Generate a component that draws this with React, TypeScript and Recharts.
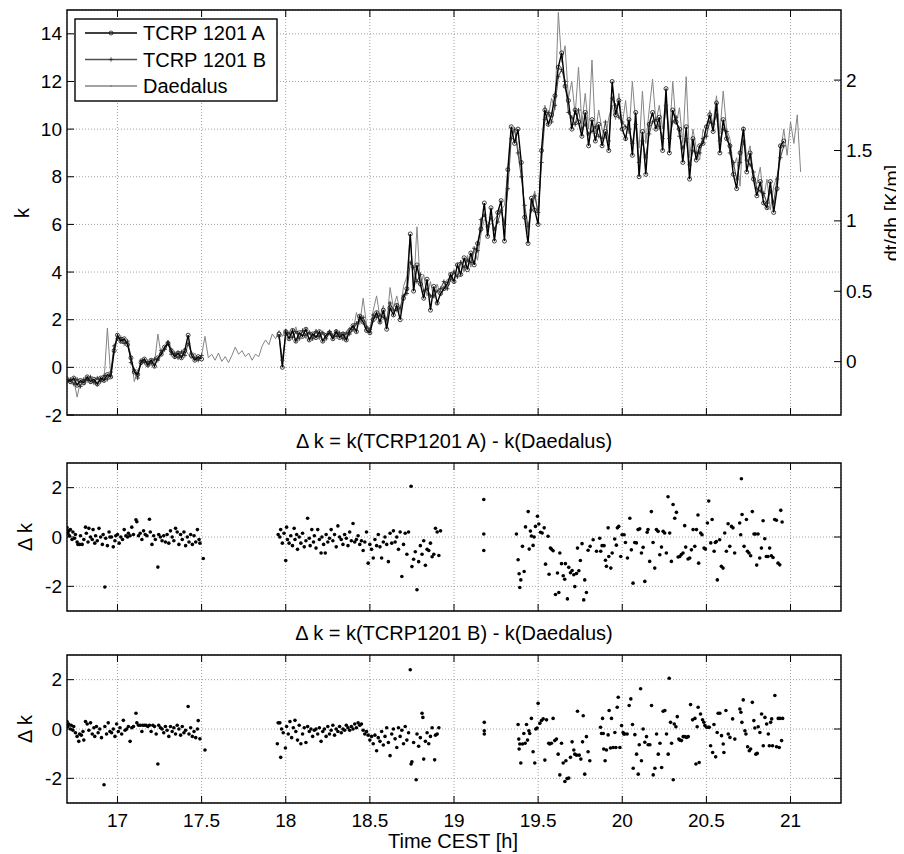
import React from "react";
import { CartesianGrid, ComposedChart, Line, ReferenceArea, Scatter, XAxis, YAxis } from "recharts";

// time axis, CEST [h]
const X_DOMAIN: [number, number] = [16.7, 21.3];
const X_TICKS = [17, 17.5, 18, 18.5, 19, 19.5, 20, 20.5, 21];
const K_DOMAIN: [number, number] = [-2, 15];
const K_TICKS = [-2, 0, 2, 4, 6, 8, 10, 12, 14];
const DTDH_DOMAIN: [number, number] = [-0.379, 2.498];
const DTDH_TICKS = [0, 0.5, 1, 1.5, 2];
const DK_DOMAIN: [number, number] = [-3, 3];
const DK_TICKS = [-2, 0, 2];

// k(t) for TCRP 1201 A  [t, k]
const tcrpA: [number, number | null][] = [
  [16.7, -0.5], [16.72, -0.6], [16.74, -0.45], [16.76, -0.75], [16.78, -0.55], [16.8, -0.65], [16.82, -0.4], [16.84, -0.6],
  [16.86, -0.5], [16.88, -0.7], [16.9, -0.45], [16.92, -0.55], [16.94, -0.3], [16.96, -0.4], [16.98, 0.7], [17.0, 1.35],
  [17.02, 1.1], [17.04, 1.2], [17.06, 0.95], [17.08, 0.4], [17.1, -0.2], [17.12, -0.3], [17.14, 0.2], [17.16, 0.35],
  [17.18, 0.1], [17.2, 0.3], [17.22, 0.05], [17.24, 0.4], [17.26, 0.55], [17.28, 0.85], [17.3, 1.0], [17.32, 0.7],
  [17.34, 0.45], [17.36, 0.6], [17.38, 0.4], [17.4, 0.7], [17.42, 1.35], [17.44, 0.5], [17.46, 0.3], [17.48, 0.45],
  [17.5, 0.35], [17.73, null],
  [17.96, 1.4], [17.98, 0.0], [18.0, 1.5], [18.02, 1.2], [18.04, 1.55], [18.06, 1.1], [18.08, 1.45], [18.1, 1.3],
  [18.12, 1.6], [18.14, 1.15], [18.16, 1.4], [18.18, 1.25], [18.2, 1.5], [18.22, 1.1], [18.24, 1.35], [18.26, 1.45],
  [18.28, 1.2], [18.3, 1.5], [18.32, 1.25], [18.34, 1.4], [18.36, 1.15], [18.38, 1.55], [18.4, 1.75], [18.42, 1.5],
  [18.44, 2.15], [18.46, 1.9], [18.48, 1.55], [18.5, 1.45], [18.52, 2.0], [18.54, 2.3], [18.56, 1.9], [18.58, 2.4],
  [18.6, 1.6], [18.62, 2.5], [18.64, 2.2], [18.66, 2.6], [18.68, 2.0], [18.7, 2.9], [18.72, 3.3], [18.74, 5.6],
  [18.76, 3.2], [18.78, 4.3], [18.8, 3.5], [18.82, 2.9], [18.84, 3.7], [18.86, 2.4], [18.88, 3.4], [18.9, 2.7],
  [18.92, 3.1], [18.94, 3.3], [18.96, 3.5], [18.98, 3.9], [19.0, 3.6], [19.02, 4.3], [19.04, 3.9], [19.06, 4.6],
  [19.08, 4.1], [19.1, 4.8], [19.12, 4.3], [19.14, 5.2], [19.16, 5.8], [19.18, 6.9], [19.2, 5.5], [19.22, 6.7],
  [19.24, 5.3], [19.26, 6.5], [19.28, 7.0], [19.3, 5.3], [19.32, 8.3], [19.34, 10.1], [19.36, 9.4], [19.38, 10.0],
  [19.4, 8.6], [19.42, 6.3], [19.44, 5.2], [19.46, 7.1], [19.48, 6.6], [19.5, 6.0], [19.52, 9.1], [19.54, 10.8],
  [19.56, 10.2], [19.58, 10.6], [19.6, 11.4], [19.62, 12.6], [19.64, 13.2], [19.66, 11.8], [19.68, 11.2], [19.7, 10.0],
  [19.72, 10.8], [19.74, 10.3], [19.76, 9.7], [19.78, 10.7], [19.8, 9.3], [19.82, 10.4], [19.84, 9.5], [19.86, 10.2],
  [19.88, 9.3], [19.9, 9.9], [19.92, 9.1], [19.94, 12.0], [19.96, 10.6], [19.98, 11.2], [20.0, 10.0], [20.02, 9.6],
  [20.04, 10.4], [20.06, 8.9], [20.08, 10.7], [20.1, 8.0], [20.12, 9.9], [20.14, 8.1], [20.16, 10.2], [20.18, 10.7],
  [20.2, 10.0], [20.22, 10.5], [20.24, 9.1], [20.26, 11.7], [20.28, 9.0], [20.3, 10.8], [20.32, 10.3], [20.34, 10.0],
  [20.36, 8.6], [20.38, 10.1], [20.4, 7.9], [20.42, 9.6], [20.44, 8.7], [20.46, 9.3], [20.48, 9.4], [20.5, 10.1],
  [20.52, 10.6], [20.54, 9.9], [20.56, 11.1], [20.58, 9.0], [20.6, 10.4], [20.62, 9.6], [20.64, 9.3], [20.66, 8.1],
  [20.68, 7.5], [20.7, 9.0], [20.72, 10.0], [20.74, 8.2], [20.76, 9.0], [20.78, 7.9], [20.8, 7.2], [20.82, 7.8],
  [20.84, 6.9], [20.86, 6.7], [20.88, 7.8], [20.9, 6.5], [20.92, 7.5], [20.94, 9.3], [20.96, 9.5],
];

// k(t) for TCRP 1201 B
const tcrpB: [number, number | null][] = [
  [16.7, -0.6], [16.72, -0.5], [16.74, -0.7], [16.76, -0.5], [16.78, -0.8], [16.8, -0.5], [16.82, -0.55], [16.84, -0.4],
  [16.86, -0.65], [16.88, -0.45], [16.9, -0.6], [16.92, -0.35], [16.94, -0.5], [16.96, -0.2], [16.98, 0.9], [17.0, 1.2],
  [17.02, 1.25], [17.04, 1.0], [17.06, 1.1], [17.08, 0.2], [17.1, -0.1], [17.12, -0.45], [17.14, 0.3], [17.16, 0.2],
  [17.18, 0.25], [17.2, 0.15], [17.22, 0.35], [17.24, 0.3], [17.26, 0.7], [17.28, 0.75], [17.3, 1.05], [17.32, 0.55],
  [17.34, 0.6], [17.36, 0.4], [17.38, 0.65], [17.4, 0.5], [17.42, 1.0], [17.44, 0.6], [17.46, 0.4], [17.48, 0.3],
  [17.5, 0.5], [17.73, null],
  [17.96, 1.3], [17.98, 0.3], [18.0, 1.35], [18.02, 1.45], [18.04, 1.25], [18.06, 1.5], [18.08, 1.2], [18.1, 1.55],
  [18.12, 1.35], [18.14, 1.45], [18.16, 1.2], [18.18, 1.5], [18.2, 1.3], [18.22, 1.45], [18.24, 1.2], [18.26, 1.5],
  [18.28, 1.35], [18.3, 1.3], [18.32, 1.45], [18.34, 1.2], [18.36, 1.45], [18.38, 1.4], [18.4, 1.6], [18.42, 1.85],
  [18.44, 2.0], [18.46, 2.1], [18.48, 1.7], [18.5, 1.6], [18.52, 2.2], [18.54, 2.1], [18.56, 2.2], [18.58, 2.1],
  [18.6, 2.0], [18.62, 2.7], [18.64, 2.4], [18.66, 2.4], [18.68, 2.5], [18.7, 3.0], [18.72, 3.1], [18.74, 4.4],
  [18.76, 4.2], [18.78, 3.6], [18.8, 3.9], [18.82, 3.2], [18.84, 3.3], [18.86, 3.0], [18.88, 3.0], [18.9, 3.2],
  [18.92, 3.3], [18.94, 3.6], [18.96, 3.3], [18.98, 3.7], [19.0, 4.0], [19.02, 3.8], [19.04, 4.4], [19.06, 4.2],
  [19.08, 4.5], [19.1, 4.4], [19.12, 5.0], [19.14, 4.9], [19.16, 6.2], [19.18, 6.4], [19.2, 5.9], [19.22, 6.3],
  [19.24, 5.8], [19.26, 6.1], [19.28, 6.6], [19.3, 6.0], [19.32, 7.5], [19.34, 9.6], [19.36, 10.0], [19.38, 9.0],
  [19.4, 8.0], [19.42, 6.8], [19.44, 5.9], [19.46, 6.6], [19.48, 7.2], [19.5, 6.5], [19.52, 8.6], [19.54, 10.4],
  [19.56, 10.7], [19.58, 10.3], [19.6, 11.0], [19.62, 12.2], [19.64, 12.5], [19.66, 12.0], [19.68, 10.7], [19.7, 10.5],
  [19.72, 10.2], [19.74, 10.8], [19.76, 10.0], [19.78, 10.2], [19.8, 9.8], [19.82, 9.9], [19.84, 10.1], [19.86, 9.7],
  [19.88, 9.6], [19.9, 10.3], [19.92, 9.5], [19.94, 11.3], [19.96, 11.0], [19.98, 10.5], [20.0, 10.3], [20.02, 10.1],
  [20.04, 10.0], [20.06, 9.4], [20.08, 10.2], [20.1, 8.6], [20.12, 9.5], [20.14, 8.8], [20.16, 9.8], [20.18, 10.3],
  [20.2, 10.4], [20.22, 10.1], [20.24, 9.6], [20.26, 11.0], [20.28, 9.6], [20.3, 10.3], [20.32, 10.5], [20.34, 9.7],
  [20.36, 9.2], [20.38, 9.6], [20.4, 8.5], [20.42, 9.1], [20.44, 9.0], [20.46, 9.0], [20.48, 9.6], [20.5, 9.7],
  [20.52, 10.3], [20.54, 10.2], [20.56, 10.6], [20.58, 9.5], [20.6, 10.0], [20.62, 9.9], [20.64, 9.0], [20.66, 8.6],
  [20.68, 7.9], [20.7, 8.6], [20.72, 9.5], [20.74, 8.7], [20.76, 8.5], [20.78, 8.2], [20.8, 7.5], [20.82, 7.4],
  [20.84, 7.3], [20.86, 6.9], [20.88, 7.4], [20.9, 6.9], [20.92, 7.9], [20.94, 8.8], [20.96, 9.3],
];

// k(t) for Daedalus
const daedalus: [number, number][] = [
  [16.7, -0.55], [16.72, -0.7], [16.74, -0.5], [16.76, -1.25], [16.78, -0.6], [16.8, -0.75], [16.82, -0.45], [16.84, -0.7],
  [16.86, -0.55], [16.88, -0.8], [16.9, -0.4], [16.92, -0.6], [16.94, 1.65], [16.96, -0.35], [16.98, 0.6], [17.0, 1.3],
  [17.02, 1.0], [17.04, 1.15], [17.06, 1.05], [17.08, 0.5], [17.1, -0.6], [17.12, -0.1], [17.14, 0.1], [17.16, 0.3],
  [17.18, 0.0], [17.2, 0.35], [17.22, 0.15], [17.24, 1.4], [17.26, 0.5], [17.28, 0.7], [17.3, 1.15], [17.32, 0.8],
  [17.34, 0.35], [17.36, 0.7], [17.38, 0.45], [17.4, 0.8], [17.42, 0.55], [17.44, 0.35], [17.46, 0.6], [17.48, 0.3],
  [17.5, 0.5], [17.52, 1.3], [17.54, 0.4], [17.56, 0.55], [17.58, 0.3], [17.6, 0.6], [17.62, 0.25], [17.64, 0.45],
  [17.66, 0.2], [17.68, 0.5], [17.7, 0.85], [17.72, 0.55], [17.74, 0.7], [17.76, 0.45], [17.78, 0.6], [17.8, 0.3],
  [17.82, 0.55], [17.84, 0.45], [17.86, 0.9], [17.88, 1.15], [17.9, 0.95], [17.92, 1.4], [17.94, 1.2], [17.96, 1.55],
  [17.98, 1.3], [18.0, 1.6], [18.02, 1.35], [18.04, 1.4], [18.06, 1.7], [18.08, 1.25], [18.1, 1.5], [18.12, 1.2],
  [18.14, 1.55], [18.16, 1.3], [18.18, 1.6], [18.2, 1.15], [18.22, 1.5], [18.24, 1.3], [18.26, 1.55], [18.28, 1.2],
  [18.3, 1.6], [18.32, 1.35], [18.34, 1.5], [18.36, 1.25], [18.38, 1.7], [18.4, 1.5], [18.42, 2.3], [18.44, 1.8],
  [18.46, 2.9], [18.48, 1.8], [18.5, 1.5], [18.52, 2.4], [18.54, 3.0], [18.56, 2.1], [18.58, 2.6], [18.6, 1.8],
  [18.62, 3.35], [18.64, 2.5], [18.66, 3.0], [18.68, 2.3], [18.7, 3.4], [18.72, 3.8], [18.74, 5.6], [18.76, 3.3],
  [18.78, 5.9], [18.8, 3.4], [18.82, 3.9], [18.84, 3.0], [18.86, 3.6], [18.88, 2.9], [18.9, 3.5], [18.92, 3.0],
  [18.94, 3.4], [18.96, 3.7], [18.98, 3.6], [19.0, 4.1], [19.02, 3.8], [19.04, 4.5], [19.06, 4.0], [19.08, 4.7],
  [19.1, 4.2], [19.12, 4.9], [19.14, 4.5], [19.16, 5.6], [19.18, 6.2], [19.22, 6.0], [19.3, 6.8], [19.34, 9.8],
  [19.36, 10.0], [19.38, 9.2], [19.4, 8.3], [19.42, 6.6], [19.44, 5.6], [19.46, 6.9], [19.48, 7.4], [19.5, 6.4],
  [19.52, 8.9], [19.54, 11.0], [19.56, 10.5], [19.58, 11.3], [19.6, 10.8], [19.62, 14.9], [19.64, 12.8], [19.66, 13.5],
  [19.68, 11.3], [19.7, 12.0], [19.72, 10.6], [19.74, 12.6], [19.76, 10.2], [19.78, 11.5], [19.8, 10.0], [19.82, 12.9],
  [19.84, 9.8], [19.86, 10.8], [19.88, 10.0], [19.9, 9.6], [19.92, 10.5], [19.94, 11.0], [19.96, 10.4], [19.98, 11.5],
  [20.0, 10.2], [20.02, 11.2], [20.04, 9.8], [20.06, 12.0], [20.08, 10.3], [20.1, 9.2], [20.12, 11.6], [20.14, 9.4],
  [20.16, 10.8], [20.18, 12.1], [20.2, 10.3], [20.22, 11.0], [20.24, 10.0], [20.26, 11.4], [20.28, 9.6], [20.3, 12.0],
  [20.32, 10.2], [20.34, 10.9], [20.36, 9.4], [20.38, 12.2], [20.4, 8.8], [20.42, 10.0], [20.44, 9.2], [20.46, 8.7],
  [20.48, 10.0], [20.5, 9.6], [20.52, 10.8], [20.54, 10.2], [20.56, 11.4], [20.58, 9.8], [20.6, 11.6], [20.62, 10.0],
  [20.64, 9.6], [20.66, 8.4], [20.68, 8.8], [20.7, 7.6], [20.72, 10.1], [20.74, 8.8], [20.76, 9.3], [20.78, 8.0],
  [20.8, 7.7], [20.82, 8.4], [20.84, 7.1], [20.86, 7.9], [20.88, 6.6], [20.9, 7.6], [20.92, 8.0], [20.94, 9.0],
  [20.96, 10.0], [20.98, 8.9], [21.0, 10.3], [21.02, 9.4], [21.04, 10.6], [21.06, 8.2],
];

// delta k = k(TCRP1201 A) - k(Daedalus)  [t, dk]
const dkA: [number, number][] = [
  [16.7, 0.38], [16.705, 0.15], [16.71, 0.25], [16.715, 0.05], [16.72, 0.3], [16.73, -0.1], [16.735, 0.2], [16.745, -0.05],
  [16.75, 0.1], [16.76, -0.2], [16.765, -0.3], [16.775, -0.3], [16.78, 0.05], [16.79, -0.3], [16.8, -0.1], [16.81, 0.4],
  [16.815, 0.15], [16.825, -0.2], [16.83, 0.35], [16.84, 0.0], [16.85, -0.1], [16.855, 0.3], [16.865, -0.25], [16.87, 0.05],
  [16.88, -0.15], [16.89, 0.35], [16.9, 0.0], [16.91, -0.3], [16.915, 0.1], [16.925, -2.03], [16.93, -0.05], [16.94, -0.35],
  [16.95, 0.2], [16.955, 0.0], [16.965, 0.0], [16.975, -0.4], [16.985, -0.15], [16.99, 0.05], [17.0, 0.1], [17.01, -0.25],
  [17.02, 0.0], [17.03, -0.1], [17.04, 0.3], [17.05, 0.05], [17.06, 0.0], [17.065, 0.15], [17.075, 0.05], [17.085, 0.4],
  [17.095, 0.1], [17.11, 0.7], [17.115, 0.62], [17.125, 0.05], [17.135, 0.15], [17.145, -0.1], [17.155, 0.25], [17.165, 0.1],
  [17.175, 0.05], [17.19, 0.72], [17.195, 0.2], [17.205, -0.3], [17.215, 0.05], [17.225, -0.1], [17.24, -1.22], [17.245, 0.1],
  [17.255, 0.0], [17.265, -0.15], [17.275, 0.05], [17.285, -0.2], [17.295, 0.1], [17.305, -0.25], [17.315, 0.25], [17.325, 0.0],
  [17.335, -0.15], [17.345, 0.35], [17.355, 0.2], [17.365, -0.3], [17.375, 0.1], [17.385, -0.1], [17.395, 0.2], [17.405, -0.35],
  [17.415, 0.0], [17.425, -0.2], [17.435, 0.1], [17.445, -0.3], [17.455, 0.05], [17.465, -0.2], [17.475, 0.3], [17.485, -0.1],
  [17.49, -0.25], [17.51, -0.87],
  [17.955, 0.1], [17.965, 0.0], [17.97, 0.3], [17.98, -0.25], [17.99, 0.15], [18.0, -0.95], [18.005, 0.4], [18.01, -0.1],
  [18.02, -0.25], [18.03, 0.05], [18.04, -0.35], [18.05, 0.35], [18.055, -0.1], [18.065, 0.1], [18.07, -0.5], [18.08, 0.0],
  [18.09, -0.25], [18.1, 0.15], [18.11, -0.4], [18.12, -0.15], [18.13, 0.76], [18.14, -0.05], [18.145, -0.35], [18.155, 0.3],
  [18.165, -0.2], [18.17, 0.05], [18.18, -0.45], [18.19, 0.3], [18.2, -0.1], [18.21, -0.65], [18.215, 0.0], [18.225, -0.3],
  [18.235, -0.65], [18.24, 0.1], [18.25, -0.2], [18.26, -0.05], [18.27, 0.3], [18.28, -0.15], [18.29, 0.1], [18.3, -0.4],
  [18.31, 0.45], [18.32, 0.0], [18.33, -0.1], [18.34, -0.3], [18.35, 0.1], [18.36, -0.05], [18.37, -0.35], [18.38, 0.2],
  [18.39, -0.15], [18.4, 0.55], [18.41, -0.2], [18.42, -0.1], [18.43, 0.05], [18.44, -0.3], [18.45, -0.15], [18.46, -0.55],
  [18.47, -0.2], [18.48, 0.2], [18.49, -1.06], [18.5, -0.3], [18.51, -0.5], [18.52, -0.85], [18.53, -0.1], [18.54, -0.35],
  [18.55, 0.1], [18.56, -0.4], [18.57, -0.85], [18.58, -0.2], [18.59, 0.0], [18.6, -0.3], [18.61, -1.0], [18.62, 0.15],
  [18.63, -0.25], [18.64, 0.25], [18.65, -0.2], [18.66, 0.0], [18.67, -0.5], [18.68, 0.2], [18.69, -1.6], [18.7, -0.3],
  [18.71, 0.15], [18.72, -0.7], [18.73, 0.2], [18.745, 2.06], [18.75, -1.2], [18.76, -0.9], [18.77, -0.6], [18.78, -2.14],
  [18.79, -1.0], [18.8, -0.35], [18.81, -0.7], [18.82, -0.15], [18.83, -1.15], [18.84, -0.5], [18.85, -0.55], [18.86, -0.25],
  [18.87, -0.8], [18.88, -0.7], [18.89, 0.35], [18.9, 0.2], [18.91, -0.75], [18.92, 0.25],
  [19.177, 1.52], [19.177, 0.12], [19.177, -0.55],
  [19.371, 0.12], [19.381, -0.92], [19.387, -1.49], [19.391, -2.05], [19.397, -1.74], [19.407, -0.38], [19.417, -1.4], [19.425, 0.41],
  [19.441, 1.03], [19.447, -0.49], [19.454, 0.24], [19.46, 0.04], [19.47, -0.34], [19.476, 0.0], [19.484, 0.43], [19.496, 0.84],
  [19.504, 0.53], [19.514, 0.19], [19.524, 0.16], [19.536, 0.37], [19.544, -1.1], [19.559, 0.03], [19.565, -1.51], [19.573, -0.45],
  [19.579, -0.49], [19.589, -0.56], [19.603, -2.33], [19.615, -1.46], [19.623, -2.25], [19.629, -0.65], [19.639, -1.08], [19.649, -1.57],
  [19.658, -1.71], [19.662, -1.08], [19.674, -2.51], [19.682, -1.23], [19.692, -1.45], [19.702, -1.36], [19.712, -1.53], [19.718, -2.01],
  [19.728, -1.48], [19.734, -0.45], [19.742, -1.37], [19.751, -0.95], [19.761, -0.27], [19.771, -2.55], [19.777, -1.74], [19.787, -2.25],
  [19.797, -0.54], [19.809, -0.38], [19.827, -0.11], [19.847, -0.58], [19.866, -0.05], [19.872, -0.58], [19.88, -0.35], [19.892, -0.35],
  [19.9, -0.94], [19.906, -1.19], [19.916, 0.37], [19.92, -0.79], [19.932, -1.26], [19.94, -0.65], [19.955, -0.08], [19.965, -0.33],
  [19.971, 0.37], [19.979, 0.43], [19.991, -0.79], [19.999, 0.09], [20.011, 0.09], [20.019, -0.22], [20.031, -0.85], [20.045, 0.76],
  [20.054, -0.52], [20.064, -1.87], [20.074, -0.22], [20.084, -0.24], [20.094, 0.3], [20.104, 0.33], [20.114, -0.65], [20.124, -0.42],
  [20.134, -1.8], [20.148, 0.19], [20.153, 0.3], [20.163, -0.99], [20.173, 1.03], [20.183, -0.22], [20.193, -1.26], [20.203, 0.3],
  [20.213, 0.23], [20.223, -0.72], [20.233, -0.41], [20.243, 0.23], [20.252, 0.16], [20.262, -0.65], [20.272, 1.63], [20.282, 0.16],
  [20.292, -0.99], [20.302, 1.32], [20.312, 0.76], [20.322, 1.0], [20.332, -0.81], [20.342, -0.79], [20.351, -0.71], [20.361, -0.65],
  [20.371, 0.46], [20.377, -0.41], [20.391, -0.89], [20.401, -0.85], [20.411, -0.52], [20.421, 0.3], [20.431, -0.38], [20.441, 0.3],
  [20.45, 0.89], [20.454, -1.06], [20.466, 0.16], [20.474, 0.09], [20.486, -0.45], [20.494, -0.49], [20.506, 0.57], [20.514, 1.46],
  [20.526, -0.24], [20.534, 0.71], [20.546, -0.58], [20.553, -0.22], [20.559, -0.18], [20.565, -1.74], [20.579, -0.11], [20.589, -1.19],
  [20.599, -1.26], [20.609, 0.16], [20.619, -0.58], [20.629, 0.54], [20.639, -0.38], [20.649, 0.43], [20.658, 0.37], [20.668, -0.65],
  [20.698, 0.57], [20.704, 0.09], [20.708, 2.36], [20.712, 0.91], [20.724, -0.38], [20.738, 0.71], [20.744, -0.58], [20.753, -0.65],
  [20.763, -0.76], [20.773, 1.03], [20.783, 0.12], [20.791, 0.12], [20.799, -1.14], [20.807, 0.12], [20.817, -0.85], [20.827, -0.45],
  [20.837, 0.66], [20.847, -0.07], [20.856, -0.79], [20.866, -0.79], [20.876, -0.45], [20.886, -0.76], [20.896, -0.83], [20.906, 0.71],
  [20.916, 0.68], [20.926, -1.06], [20.936, -1.13], [20.942, 1.08], [20.95, 0.61],
];

// delta k = k(TCRP1201 B) - k(Daedalus)
const dkB: [number, number][] = [
  [16.7, 0.3], [16.705, 0.1], [16.71, 0.2], [16.72, 0.0], [16.725, 0.15], [16.735, -0.05], [16.74, 0.1], [16.75, -0.15],
  [16.76, -0.3], [16.77, -0.5], [16.775, -0.2], [16.785, -0.25], [16.795, -0.1], [16.8, -0.45], [16.81, 0.3], [16.82, 0.2],
  [16.83, -0.05], [16.84, 0.25], [16.85, -0.2], [16.86, 0.05], [16.865, -0.3], [16.875, 0.1], [16.885, -0.15], [16.895, 0.0],
  [16.905, -0.35], [16.92, -2.26], [16.925, 0.1], [16.935, -0.2], [16.945, 0.25], [16.955, -0.1], [16.965, -0.15], [16.975, 0.0],
  [16.985, -0.3], [16.995, 0.2], [17.005, -0.1], [17.015, 0.05], [17.025, -0.2], [17.035, 0.35], [17.045, -0.05], [17.055, 0.0],
  [17.065, 0.1], [17.075, -0.5], [17.085, 0.05], [17.095, 0.1], [17.11, 0.64], [17.115, 0.25], [17.125, 0.15], [17.135, 0.15],
  [17.145, -0.1], [17.15, 0.15], [17.16, 0.15], [17.17, 0.15], [17.18, 0.1], [17.19, 0.15], [17.2, -0.1], [17.21, 0.15],
  [17.22, 0.1], [17.23, -0.2], [17.24, -1.42], [17.245, 0.15], [17.255, 0.05], [17.265, 0.0], [17.275, -0.15], [17.285, 0.1],
  [17.295, -0.05], [17.305, -0.3], [17.315, 0.1], [17.325, -0.1], [17.335, 0.05], [17.345, -0.2], [17.355, 0.15], [17.365, 0.0],
  [17.375, -0.25], [17.385, 0.1], [17.395, -0.15], [17.405, -0.05], [17.42, 0.91], [17.425, -0.2], [17.435, 0.05], [17.445, -0.3],
  [17.455, -0.1], [17.465, -0.35], [17.475, 0.0], [17.48, 0.34], [17.49, -0.4], [17.52, -0.85],
  [17.95, -0.6], [17.955, 0.25], [17.965, 0.25], [17.97, -1.15], [17.975, 0.0], [17.985, -0.15], [17.998, -0.77], [18.005, 0.1],
  [18.015, -0.2], [18.025, 0.3], [18.035, -0.35], [18.045, 0.05], [18.055, 0.35], [18.06, -0.1], [18.07, -0.45], [18.08, 0.15],
  [18.09, -0.6], [18.1, -0.2], [18.11, 0.05], [18.12, -0.55], [18.13, 0.1], [18.14, -0.1], [18.15, 0.0], [18.16, -0.3],
  [18.17, -0.05], [18.18, 0.0], [18.19, -0.2], [18.2, 0.05], [18.21, -0.5], [18.22, -0.1], [18.23, 0.0], [18.24, -0.3],
  [18.25, 0.1], [18.26, -0.2], [18.27, -0.05], [18.28, 0.15], [18.29, -0.25], [18.3, 0.0], [18.31, -0.1], [18.32, 0.1],
  [18.33, -0.15], [18.34, 0.0], [18.35, -0.05], [18.36, 0.15], [18.37, 0.05], [18.38, -0.05], [18.39, 0.1], [18.4, 0.0],
  [18.41, 0.2], [18.42, 0.05], [18.43, 0.25], [18.44, 0.15], [18.45, 0.2], [18.46, -0.05], [18.47, -0.2], [18.48, -0.1],
  [18.49, -0.25], [18.5, -0.45], [18.51, -0.3], [18.52, -0.6], [18.53, -0.25], [18.54, -0.88], [18.55, -0.35], [18.56, -0.5],
  [18.57, -0.1], [18.58, -0.65], [18.59, -0.3], [18.6, 0.05], [18.61, -0.55], [18.62, -1.08], [18.63, -0.2], [18.64, 0.0],
  [18.65, -0.4], [18.66, -0.75], [18.67, 0.05], [18.68, -0.3], [18.69, -0.05], [18.7, -0.6], [18.71, 0.1], [18.72, -0.45],
  [18.73, -0.15], [18.74, 2.4], [18.745, -1.42], [18.75, -1.33], [18.76, -0.55], [18.775, -2.06], [18.78, -0.2], [18.79, -0.7],
  [18.8, -0.35], [18.81, 0.64], [18.815, 0.47], [18.82, -1.22], [18.83, -0.5], [18.84, -0.15], [18.85, -0.6], [18.86, -0.3],
  [18.87, 0.05], [18.885, -1.25], [18.89, -0.25], [18.9, -0.2], [18.91, 0.05],
  [19.18, 0.27], [19.18, -0.07], [19.18, -0.2],
  [19.381, 0.18], [19.385, -0.41], [19.387, -0.81], [19.391, -0.61], [19.397, -1.38], [19.407, -0.61], [19.415, -0.18], [19.423, -0.58],
  [19.431, 0.18], [19.437, -0.45], [19.445, -0.07], [19.45, -0.18], [19.46, 0.43], [19.47, -0.92], [19.48, -1.38], [19.486, 0.0],
  [19.494, 0.04], [19.5, 1.04], [19.51, 0.23], [19.52, 0.34], [19.53, 0.41], [19.54, -1.26], [19.55, 0.37], [19.563, -0.58],
  [19.569, -0.61], [19.579, -0.58], [19.589, 0.43], [19.599, -0.47], [19.609, -0.41], [19.619, -1.02], [19.629, -1.86], [19.639, -0.58],
  [19.649, -1.38], [19.659, -2.13], [19.665, -1.29], [19.672, -2.01], [19.682, -1.99], [19.692, -1.15], [19.702, -0.52], [19.712, -0.85],
  [19.718, -1.02], [19.728, -1.06], [19.734, 0.72], [19.744, -1.06], [19.754, -1.22], [19.764, -0.52], [19.768, 0.54], [19.777, -1.83],
  [19.787, -0.31], [19.797, -0.92], [19.807, -1.29], [19.871, 0.07], [19.877, -0.18], [19.883, 0.43], [19.887, -0.18], [19.89, -0.81],
  [19.898, -1.29], [19.906, -0.85], [19.916, -0.24], [19.922, 0.75], [19.93, -0.77], [19.936, 0.43], [19.946, -0.75], [19.956, -0.14],
  [19.962, -0.75], [19.97, 0.88], [19.976, 1.29], [19.986, -0.75], [19.996, 0.14], [20.005, -0.14], [20.009, -0.2], [20.015, -0.2],
  [20.029, -0.2], [20.041, 0.95], [20.051, 1.22], [20.061, 0.18], [20.065, -1.59], [20.075, -0.23], [20.085, -1.02], [20.095, -1.83],
  [20.101, -0.64], [20.109, 1.63], [20.114, -1.29], [20.124, 0.0], [20.134, -0.54], [20.144, -0.31], [20.154, -0.64], [20.164, -0.64],
  [20.174, 0.95], [20.184, -1.86], [20.194, -1.59], [20.204, -0.2], [20.214, -1.02], [20.224, -0.58], [20.234, -1.56], [20.243, 0.72],
  [20.253, 0.75], [20.263, -0.2], [20.273, -1.02], [20.279, 2.06], [20.287, 0.27], [20.293, -0.58], [20.303, -2.06], [20.309, 0.2],
  [20.319, 0.09], [20.327, 0.5], [20.336, -0.41], [20.342, -0.45], [20.352, -0.47], [20.362, -0.31], [20.372, -0.31], [20.382, -0.34],
  [20.392, -0.31], [20.406, 0.99], [20.418, 0.37], [20.432, 0.43], [20.438, -1.42], [20.445, 0.09], [20.451, 0.88], [20.457, -1.36],
  [20.465, 0.61], [20.477, 0.37], [20.485, 0.27], [20.491, 0.14], [20.501, 0.07], [20.511, 0.07], [20.517, 0.07], [20.525, -0.68],
  [20.537, -0.95], [20.545, 0.18], [20.555, -1.13], [20.564, -0.14], [20.57, 0.64], [20.58, 0.64], [20.59, -0.27], [20.6, -0.61],
  [20.604, -0.95], [20.616, 0.75], [20.63, -0.2], [20.64, -0.34], [20.656, 0.41], [20.669, -0.41], [20.699, 0.81], [20.705, 0.68],
  [20.711, 0.27], [20.719, 1.18], [20.729, -0.07], [20.735, -0.2], [20.745, -0.72], [20.755, -0.88], [20.763, -0.81], [20.773, 1.08],
  [20.782, 0.34], [20.788, 0.04], [20.794, -1.02], [20.802, -0.99], [20.808, 0.09], [20.818, -0.14], [20.828, 0.61], [20.838, -0.68],
  [20.848, 0.47], [20.858, 0.2], [20.868, -0.2], [20.874, -0.68], [20.882, 0.27], [20.888, 0.41], [20.893, -0.68], [20.907, 1.36],
  [20.917, -0.72], [20.927, 0.43], [20.933, -0.75], [20.937, 0.43], [20.947, -0.47], [20.953, 0.43],
];

const rows = (pairs: [number, number | null][]) => pairs.map(([t, v]) => ({ t, v }));

const FONT = '"Liberation Sans", Arial, Helvetica, sans-serif';
const W = 888;
const PL = 59; // plot left inside each chart
const PR = 833; // plot right inside each chart
const TICK = 7;
const GRID = "#a0a0a0";

const COLOR_A = "#000000";
const COLOR_B = "#505050";
const COLOR_D = "#858585";

function xTick(top: number, bottom: number, labels: boolean) {
  return (p: any) => (
    <g key={`xt-${p.index}`}>
      <line x1={p.x} x2={p.x} y1={bottom} y2={bottom - TICK} stroke="#000" />
      <line x1={p.x} x2={p.x} y1={top} y2={top + TICK} stroke="#000" />
      {labels && (
        <text x={p.x} y={bottom + 17} textAnchor="middle" dominantBaseline="central" fontSize={19} fontFamily={FONT} fill="#000">
          {p.payload.value}
        </text>
      )}
    </g>
  );
}

function yTickLeft(mirror: boolean) {
  return (p: any) => (
    <g key={`yl-${p.index}`}>
      <line x1={PL} x2={PL + TICK} y1={p.y} y2={p.y} stroke="#000" />
      {mirror && <line x1={PR} x2={PR - TICK} y1={p.y} y2={p.y} stroke="#000" />}
      <text x={PL - 5} y={p.y} textAnchor="end" dominantBaseline="central" fontSize={19} fontFamily={FONT} fill="#000">
        {p.payload.value}
      </text>
    </g>
  );
}

const yTickRight = (p: any) => (
  <g key={`yr-${p.index}`}>
    <line x1={PR} x2={PR - TICK} y1={p.y} y2={p.y} stroke="#000" />
    <text x={PR + 5} y={p.y} textAnchor="start" dominantBaseline="central" fontSize={19} fontFamily={FONT} fill="#000">
      {p.payload.value}
    </text>
  </g>
);

const circleDot = (p: any) =>
  p.cy == null ? <g key={p.index} /> : <circle key={p.index} cx={p.cx} cy={p.cy} r={2} fill="none" stroke="#111" strokeWidth={0.8} />;

const plusDot = (p: any) =>
  p.cy == null ? (
    <g key={p.index} />
  ) : (
    <path key={p.index} d={`M${p.cx - 2.2},${p.cy}h4.4M${p.cx},${p.cy - 2.2}v4.4`} stroke="#222" strokeWidth={0.8} />
  );

const pointShape = (p: any) => <circle cx={p.cx} cy={p.cy} r={1.8} fill="#000" />;

function DeltaPanel({ data, height, xHeight, labels }: { data: [number, number][]; height: number; xHeight: number; labels: boolean }) {
  const bottom = height - xHeight;
  return (
    <ComposedChart width={W} height={height} margin={{ top: 5, right: W - PR, bottom: 0, left: 0 }}>
      <CartesianGrid yAxisId="dk" stroke={GRID} strokeDasharray="1 2" />
      <XAxis dataKey="t" type="number" domain={X_DOMAIN} ticks={X_TICKS} interval={0} allowDataOverflow height={xHeight}
        axisLine={false} tickLine={false} tick={xTick(5, bottom, labels)} />
      <YAxis yAxisId="dk" dataKey="v" type="number" domain={DK_DOMAIN} ticks={DK_TICKS} interval={0} allowDataOverflow width={PL}
        axisLine={false} tickLine={false} tick={yTickLeft(true)} />
      <Scatter yAxisId="dk" data={rows(data)} dataKey="v" shape={pointShape} isAnimationActive={false} />
      <ReferenceArea yAxisId="dk" x1={X_DOMAIN[0]} x2={X_DOMAIN[1]} y1={DK_DOMAIN[0]} y2={DK_DOMAIN[1]}
        fill="none" stroke="#000" strokeWidth={1.4} fillOpacity={0} ifOverflow="visible" />
    </ComposedChart>
  );
}

function LegendBox() {
  const items = [
    { name: "TCRP 1201 A", color: COLOR_A, mark: "o" },
    { name: "TCRP 1201 B", color: COLOR_B, mark: "+" },
    { name: "Daedalus", color: COLOR_D, mark: "." },
  ];
  return (
    <g transform="translate(67,11)">
      <rect x={0} y={0} width={202} height={82} fill="#fff" stroke="#000" strokeWidth={1.4} />
      {items.map((it, i) => {
        const y = 14 + i * 26.5;
        return (
          <g key={it.name}>
            <line x1={10} x2={62} y1={y} y2={y} stroke={it.color} strokeWidth={1.3} />
            {it.mark === "o" && <circle cx={36} cy={y} r={2} fill="none" stroke="#111" strokeWidth={0.8} />}
            {it.mark === "+" && <path d={`M33.8,${y}h4.4M36,${y - 2.2}v4.4`} stroke="#222" strokeWidth={0.8} />}
            {it.mark === "." && <circle cx={36} cy={y} r={1} fill={it.color} />}
            <text x={68} y={y} dominantBaseline="central" fontSize={20} fontFamily={FONT} fill="#000">{it.name}</text>
          </g>
        );
      })}
    </g>
  );
}

export default function App() {
  const text = { fontFamily: FONT, fill: "#000", textAnchor: "middle" as const, dominantBaseline: "central" as const };
  return (
    <div style={{ position: "relative", width: W, height: 846, background: "#fff" }}>
      <div style={{ position: "absolute", left: 0, top: 0 }}>
        <ComposedChart width={W} height={420} margin={{ top: 2, right: 0, bottom: 0, left: 0 }}>
          <CartesianGrid yAxisId="k" stroke={GRID} strokeDasharray="1 2" />
          <XAxis dataKey="t" type="number" domain={X_DOMAIN} ticks={X_TICKS} interval={0} allowDataOverflow height={13}
            axisLine={false} tickLine={false} tick={xTick(2, 407, false)} />
          <YAxis yAxisId="k" dataKey="v" type="number" domain={K_DOMAIN} ticks={K_TICKS} interval={0} allowDataOverflow width={PL}
            axisLine={false} tickLine={false} tick={yTickLeft(false)} />
          <YAxis yAxisId="dtdh" orientation="right" type="number" domain={DTDH_DOMAIN} ticks={DTDH_TICKS} interval={0} allowDataOverflow
            width={W - PR} axisLine={false} tickLine={false} tick={yTickRight} />
          <Line yAxisId="k" data={rows(daedalus)} dataKey="v" type="linear" stroke={COLOR_D} strokeWidth={1} dot={false}
            activeDot={false} isAnimationActive={false} />
          <Line yAxisId="k" data={rows(tcrpB)} dataKey="v" type="linear" stroke={COLOR_B} strokeWidth={1.1} dot={plusDot}
            activeDot={false} isAnimationActive={false} />
          <Line yAxisId="k" data={rows(tcrpA)} dataKey="v" type="linear" stroke={COLOR_A} strokeWidth={1.4} dot={circleDot}
            activeDot={false} isAnimationActive={false} />
          <ReferenceArea yAxisId="k" x1={X_DOMAIN[0]} x2={X_DOMAIN[1]} y1={K_DOMAIN[0]} y2={K_DOMAIN[1]}
            fill="none" stroke="#000" strokeWidth={1.4} fillOpacity={0} ifOverflow="visible" />
        </ComposedChart>
      </div>
      <div style={{ position: "absolute", left: 0, top: 450 }}>
        <DeltaPanel data={dkA} height={160} xHeight={7} labels={false} />
      </div>
      <div style={{ position: "absolute", left: 0, top: 642 }}>
        <DeltaPanel data={dkB} height={196} xHeight={43} labels />
      </div>
      <svg width={896} height={846} style={{ position: "absolute", left: 0, top: 0, pointerEvents: "none", overflow: "visible" }}>
        <LegendBox />
        <text {...text} x={13.5} y={205} fontSize={20} transform="rotate(-90 13.5 205)">k</text>
        <text {...text} x={884} y={205} fontSize={20} transform="rotate(-90 884 205)">dt/dh [K/m]</text>
        <text {...text} x={446} y={433} fontSize={20}>Δ k = k(TCRP1201 A) - k(Daedalus)</text>
        <text {...text} x={446} y={625} fontSize={20}>Δ k = k(TCRP1201 B) - k(Daedalus)</text>
        <text {...text} x={17} y={529} fontSize={20} transform="rotate(-90 17 529)">Δ k</text>
        <text {...text} x={17} y={721} fontSize={20} transform="rotate(-90 17 721)">Δ k</text>
        <text {...text} x={445} y={833} fontSize={20}>Time CEST [h]</text>
      </svg>
    </div>
  );
}
